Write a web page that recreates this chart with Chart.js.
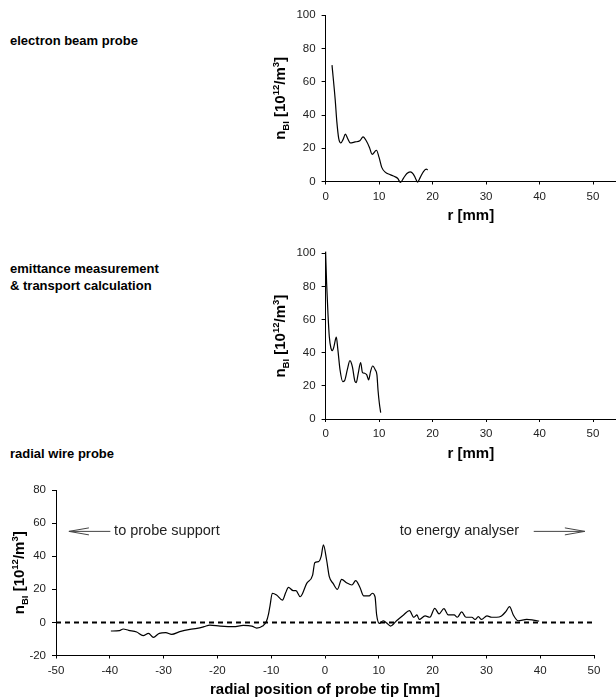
<!DOCTYPE html>
<html>
<head>
<meta charset="utf-8">
<script src="https://cdn.jsdelivr.net/npm/chart.js@4.4.1/dist/chart.umd.min.js"></script>
<style>
  body { margin: 0; background: #fff; }
  #hoja { position: relative; width: 616px; height: 700px; font-family: "Liberation Sans", Arial, sans-serif; }
  .panel { position: absolute; left: 0; width: 616px; }
  .etiqueta { position: absolute; left: 10px; font-weight: bold; font-size: 13px; line-height: 17px; color: #000; }
</style>
</head>
<body>
<div id="hoja">
  <div class="etiqueta" style="top:32px">electron beam probe</div>
  <div class="etiqueta" style="top:260px">emittance measurement<br>&amp; transport calculation</div>
  <div class="etiqueta" style="top:445px">radial wire probe</div>
  <div class="panel" style="top:0;height:232px"><canvas id="grafica-haz"></canvas></div>
  <div class="panel" style="top:232px;height:234px"><canvas id="grafica-emitancia"></canvas></div>
  <div class="panel" style="top:466px;height:234px"><canvas id="grafica-sonda"></canvas></div>
</div>
<script>
/* ===== DATOS ===== */

// electron beam probe: r [mm] / n_BI
const HAZ_R = [1.2, 1.8, 2.1, 2.45, 2.85, 3.3, 3.7, 4.1, 4.6, 5.5, 6.4, 7.0, 7.6, 8.2, 8.7,
               9.5, 10.0, 10.5, 11.2, 12.0, 12.9, 13.5, 14.0, 14.6, 15.2, 15.8, 16.4, 16.8,
               17.2, 17.7, 18.3, 18.8, 19.1];
const HAZ_N = [70, 49, 36, 26, 23.2, 25.5, 28.5, 26, 23.2, 23.8, 24.5, 26.8, 24.5, 20.5, 16.3,
               18.8, 14.5, 8.5, 5.5, 4.2, 3.0, 1.8, -0.6, 2.2, 4.8, 5.8, 4.5, 2.0,
               -0.4, 2.5, 6.0, 7.4, 7.0];

// emittance measurement & transport calculation
const EMIT_R = [0, 0.19, 0.44, 0.69, 1.0, 1.3, 1.56, 2.0, 2.3, 2.7, 3.2, 3.55, 4.05, 4.55, 5.0,
                5.5, 5.73, 6.1, 6.55, 6.9, 7.3, 7.7, 8.05, 8.4, 8.8, 9.3, 9.6, 9.8, 10.05, 10.3];
const EMIT_N = [101, 81.9, 63.8, 49.8, 42.7, 41.3, 43.7, 49.4, 41.7, 29.6, 22.6, 23.2, 29.6, 35.2, 31.6,
                22.6, 22.0, 27.6, 34.0, 28.0, 27.6, 26.6, 23.6, 28.6, 32.0, 29.6, 26.6, 17.5, 9.5, 3.8];

// radial wire probe: posición de la punta [mm] / n_BI
const SONDA_X = [
  -39.8, -38.2, -37.5, -36.5, -35.0, -33.8, -32.8, -31.9, -30.8, -29.6,
  -28.5, -27.0, -25.1, -23.8, -22.5, -21.4, -19.5, -17.0, -15.2, -13.6,
  -12.7, -11.6, -10.9, -10.5, -10.2, -9.8, -9.0, -7.9, -7.3, -6.8,
  -5.9, -5.4, -4.6, -3.4, -2.3, -1.9, -1.2, -0.7, -0.3, 0.3,
  0.8, 1.5, 2.3, 3.1, 4.0, 5.0, 5.7, 6.5, 7.2, 8.2,
  8.8, 9.3, 9.6, 10.1, 10.8, 11.4, 12.2, 13.3, 14.6, 15.7,
  16.5, 17.1, 17.5, 18.6, 19.5, 20.4, 21.2, 22.1, 22.9, 24.0,
  24.6, 25.4, 26.2, 27.3, 27.9, 28.5, 29.1, 30.1, 31.0, 31.9,
  32.8, 33.6, 34.3, 35.0, 35.9, 37.5, 38.7, 39.8
];
const SONDA_N = [
  -5.2, -5.0, -4.0, -4.8, -5.8, -8.0, -6.6, -9.0, -6.6, -6.2,
  -7.2, -5.6, -4.2, -3.6, -2.6, -1.6, -2.2, -2.6, -1.8, -2.2,
  -3.4, -2.2, 0.5, 5.0, 10.5, 17.6, 16.6, 13.5, 18.0, 21.2,
  19.2, 19.2, 15.5, 23.6, 28.6, 36.1, 36.7, 40.0, 46.8, 37.7,
  27.6, 23.6, 20.0, 26.0, 24.0, 22.6, 25.2, 21.1, 16.0, 16.0,
  17.6, 15.5, 4.5, -0.6, 1.0, -0.2, -2.2, 1.0, 4.5, 7.1,
  3.1, 4.5, 1.8, 3.9, 3.1, 8.5, 5.1, 8.3, 4.5, 4.5,
  3.1, 6.3, 3.1, 3.1, 1.8, 3.5, 1.8, 3.9, 3.1, 3.1,
  3.9, 6.5, 9.5, 4.5, 1.0, 1.8, 1.4, 0.8
];

// línea de referencia en cero
const CERO_X = [-50, 50];
const CERO_N = [0, 0];

// marcas de los ejes x
const MARCAS_R     = [0, 10, 20, 30, 40, 50];
const MARCAS_SONDA = [-50, -40, -30, -20, -10, 0, 10, 20, 30, 40, 50];

/* ===== CONFIGURACIÓN GLOBAL ===== */

const FAMILIA = "'Liberation Sans', Arial, sans-serif";
Chart.defaults.font.family = FAMILIA;
Chart.defaults.font.size   = 11.5;
Chart.defaults.color       = "#222";
Chart.defaults.animation   = false;

const PARTES_Y = [
  { s: "n",    t: 15,  dy: 0 },
  { s: "BI",   t: 9.5, dy: 3.5 },
  { s: " [10", t: 15,  dy: 0 },
  { s: "12",   t: 9.5, dy: -6 },
  { s: "/m",   t: 15,  dy: 0 },
  { s: "3",    t: 9.5, dy: -6 },
  { s: "]",    t: 15,  dy: 0 },
];

function puntos(xs, ys) {
  return xs.map(function(x, i) { return { x: x, y: ys[i] }; });
}

function dibujarRico(ctx, partes) {
  let total = 0;
  partes.forEach(function(p) {
    ctx.font = "bold " + p.t + "px " + FAMILIA;
    p.w = ctx.measureText(p.s).width;
    total += p.w;
  });
  let x = -total / 2;
  ctx.textAlign = "left";
  partes.forEach(function(p) {
    ctx.font = "bold " + p.t + "px " + FAMILIA;
    ctx.fillText(p.s, x, p.dy);
    x += p.w;
  });
}

/* ===== TÍTULOS DE EJES ===== */

const pluginTitulos = {
  id: "titulos",
  afterDraw(chart, args, opts) {
    const ctx = chart.ctx, area = chart.chartArea;
    ctx.save();
    ctx.fillStyle = "#000";
    ctx.textBaseline = "alphabetic";
    ctx.font = "bold 15px " + FAMILIA;
    ctx.textAlign = "center";
    ctx.fillText(opts.tituloX, (area.left + area.right) / 2, area.bottom + 38.5);
    ctx.translate(opts.posY, (area.top + area.bottom) / 2);
    ctx.rotate(-Math.PI / 2);
    dibujarRico(ctx, PARTES_Y);
    ctx.restore();
  }
};

/* ===== FLECHAS Y TEXTOS DE LA SONDA ===== */

function flecha(ctx, x0, x1, y) {
  const dir = Math.sign(x1 - x0);
  ctx.beginPath();
  ctx.moveTo(x0, y);
  ctx.lineTo(x1, y);
  ctx.moveTo(x1 - dir * 20, y - 3.5);
  ctx.lineTo(x1, y);
  ctx.lineTo(x1 - dir * 20, y + 3.5);
  ctx.stroke();
}

const pluginNotas = {
  id: "notas",
  afterDraw(chart) {
    const ctx = chart.ctx, sx = chart.scales.x, sy = chart.scales.y;
    const y = sy.getPixelForValue(55);
    ctx.save();
    ctx.strokeStyle = "#444";
    ctx.lineWidth = 1;
    ctx.fillStyle = "#222";
    ctx.font = "14.5px " + FAMILIA;
    ctx.textBaseline = "middle";
    ctx.textAlign = "left";
    flecha(ctx, sx.getPixelForValue(-39.9), sx.getPixelForValue(-47.6), y);
    ctx.fillText("to probe support", sx.getPixelForValue(-39.2), y);
    ctx.fillText("to energy analyser", sx.getPixelForValue(13.9), y);
    flecha(ctx, sx.getPixelForValue(38.8), sx.getPixelForValue(48.3), y);
    ctx.restore();
  }
};

/* ===== EJES ===== */

function ejeX(min, max, alto, marcas) {
  return {
    type: "linear", min: min, max: max,
    afterBuildTicks: function(s) { s.ticks = marcas.map(function(v) { return { value: v }; }); },
    afterFit: function(s) { s.height = alto; },
    ticks: { padding: 5, maxRotation: 0, autoSkip: false, color: "#222" },
    grid: { drawOnChartArea: false, tickLength: 3, tickColor: "#000", color: "#000" },
    border: { color: "#000", width: 1 },
  };
}

function ejeY(min, max, ancho) {
  return {
    type: "linear", min: min, max: max,
    afterFit: function(s) { s.width = ancho; },
    ticks: { stepSize: 20, padding: 6, color: "#222" },
    grid: { drawOnChartArea: false, tickLength: 4, tickColor: "#000", color: "#000" },
    border: { color: "#000", width: 1 },
  };
}

function serie(datos, extra) {
  return Object.assign({
    data: datos,
    borderColor: "#000",
    borderWidth: 1.2,
    pointRadius: 0,
    showLine: true,
    cubicInterpolationMode: "monotone",
    clip: false,
  }, extra || {});
}

function crearGrafica(id, datasets, escalas, relleno, titulos, plugins) {
  new Chart(document.getElementById(id), {
    type: "scatter",
    data: { datasets: datasets },
    options: {
      responsive: true,
      maintainAspectRatio: false,
      layout: { padding: relleno },
      plugins: { legend: { display: false }, tooltip: { enabled: false }, titulos: titulos },
      scales: escalas,
    },
    plugins: [pluginTitulos].concat(plugins || []),
  });
}

/* ===== INICIALIZACIÓN ===== */

crearGrafica("grafica-haz",
  [serie(puntos(HAZ_R, HAZ_N))],
  { x: ejeX(0, 54.3, 50.5, MARCAS_R), y: ejeY(0, 100, 325.6) },
  { left: 0, top: 15.3, right: 0, bottom: 0 },
  { tituloX: "r [mm]", posY: 285 });

crearGrafica("grafica-emitancia",
  [serie(puntos(EMIT_R, EMIT_N))],
  { x: ejeX(0, 54.3, 47, MARCAS_R), y: ejeY(0, 100, 325.6) },
  { left: 0, top: 21.3, right: 0, bottom: 0 },
  { tituloX: "r [mm]", posY: 285 });

crearGrafica("grafica-sonda",
  [
    serie(puntos(CERO_X, CERO_N), { borderWidth: 2, borderDash: [5, 4], cubicInterpolationMode: "default", tension: 0 }),
    serie(puntos(SONDA_X, SONDA_N)),
  ],
  { x: ejeX(-50, 50, 44.5, MARCAS_SONDA), y: ejeY(-20, 80, 56) },
  { left: 0, top: 24, right: 22, bottom: 0 },
  { tituloX: "radial position of probe tip [mm]", posY: 24 },
  [pluginNotas]);
</script>
</body>
</html>
